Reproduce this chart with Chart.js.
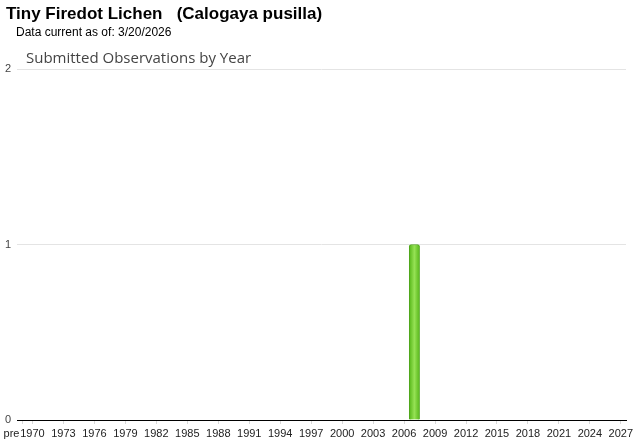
<!DOCTYPE html>
<html>
<head>
<meta charset="utf-8">
<script src="https://cdn.jsdelivr.net/npm/chart.js@4/dist/chart.umd.min.js"></script>
<style>
  html, body { margin: 0; padding: 0; background: #fff; }
  #wrap { position: relative; width: 640px; height: 442px; overflow: hidden; }
  #title { position: absolute; left: 6px; top: 4px; font: bold 17px "Liberation Sans", Arial, sans-serif; color: #000; white-space: pre; }
  #sub { position: absolute; left: 16px; top: 25px; font: 12px "Liberation Sans", Arial, sans-serif; color: #000; }
  #ctitle { position: absolute; left: 26px; top: 47px; font: 15px "Open Sans", sans-serif; color: #444; }
  canvas { position: absolute; left: 0; top: 0; }
</style>
</head>
<body>
<div id="wrap">
  <canvas id="chartObs" width="640" height="442"></canvas>
  <div id="title">Tiny Firedot Lichen   (Calogaya pusilla)</div>
  <div id="sub">Data current as of: 3/20/2026</div>
  <div id="ctitle">Submitted Observations by Year</div>
</div>
<script>
const years = ['pre',
  '1970', '1971', '1972', '1973', '1974', '1975', '1976', '1977', '1978', '1979',
  '1980', '1981', '1982', '1983', '1984', '1985', '1986', '1987', '1988', '1989',
  '1990', '1991', '1992', '1993', '1994', '1995', '1996', '1997', '1998', '1999',
  '2000', '2001', '2002', '2003', '2004', '2005', '2006', '2007', '2008', '2009',
  '2010', '2011', '2012', '2013', '2014', '2015', '2016', '2017', '2018', '2019',
  '2020', '2021', '2022', '2023', '2024', '2025', '2026', '2027'];

const observations = [0,
  0, 0, 0, 0, 0, 0, 0, 0, 0, 0,
  0, 0, 0, 0, 0, 0, 0, 0, 0, 0,
  0, 0, 0, 0, 0, 0, 0, 0, 0, 0,
  0, 0, 0, 0, 0, 0, 0, 1, 0, 0,
  0, 0, 0, 0, 0, 0, 0, 0, 0, 0,
  0, 0, 0, 0, 0, 0, 0, 0];

const shownLabels = ['pre', '1970', '1973', '1976', '1979', '1982', '1985', '1988', '1991',
  '1994', '1997', '2000', '2003', '2006', '2009', '2012', '2015', '2018', '2021', '2024', '2027'];

const yTicks = [0, 1, 2];

const ctx = document.getElementById('chartObs');

function barFill(c) {
  const chart = c.chart;
  if (!chart.chartArea) return '#74cf2c';
  const x = chart.scales.x.getPixelForValue(c.dataIndex);
  const g = chart.ctx.createLinearGradient(x - 5, 0, x + 5, 0);
  g.addColorStop(0, '#58b81a');
  g.addColorStop(0.5, '#96e255');
  g.addColorStop(1, '#58b81a');
  return g;
}

new Chart(ctx, {
  type: 'bar',
  data: {
    labels: years,
    datasets: [{
      label: 'Observations',
      data: observations,
      backgroundColor: barFill,
      borderColor: '#4ea51a',
      borderWidth: 1,
      borderRadius: 2,
      borderSkipped: 'bottom',
      barPercentage: 1,
      categoryPercentage: 1
    }]
  },
  options: {
    responsive: false,
    animation: false,
    layout: { padding: { top: 69, right: 14, bottom: 0, left: 0 } },
    plugins: { legend: { display: false }, tooltip: { enabled: false } },
    scales: {
      x: {
        afterFit: function(scale) { scale.height = 22; },
        grid: {
          offset: false,
          drawOnChartArea: false,
          tickLength: 4,
          color: function(c) {
            return shownLabels.includes(years[c.index]) ? '#d8d8d8' : 'rgba(0,0,0,0)';
          }
        },
        border: { color: '#000', width: 1 },
        ticks: {
          autoSkip: false,
          maxRotation: 0,
          padding: 3,
          color: '#222',
          font: { family: 'Liberation Sans', size: 11 },
          callback: function(value, i) {
            const lab = years[i];
            if (!shownLabels.includes(lab)) return '';
            return lab === 'pre' ? 'pre\u00a0\u00a0\u00a0\u00a0\u00a0\u00a0\u00a0' : lab;
          }
        }
      },
      y: {
        min: 0,
        max: 2,
        afterFit: function(scale) { scale.width = 17; },
        afterBuildTicks: function(scale) { scale.ticks = yTicks.map(v => ({ value: v })); },
        grid: {
          drawTicks: false,
          color: function(c) { return c.tick.value === 0 ? '#000' : '#e4e4e4'; }
        },
        border: { display: false },
        ticks: {
          padding: 6,
          color: '#444',
          font: { family: 'Liberation Sans', size: 11 }
        }
      }
    }
  }
});
</script>
</body>
</html>
